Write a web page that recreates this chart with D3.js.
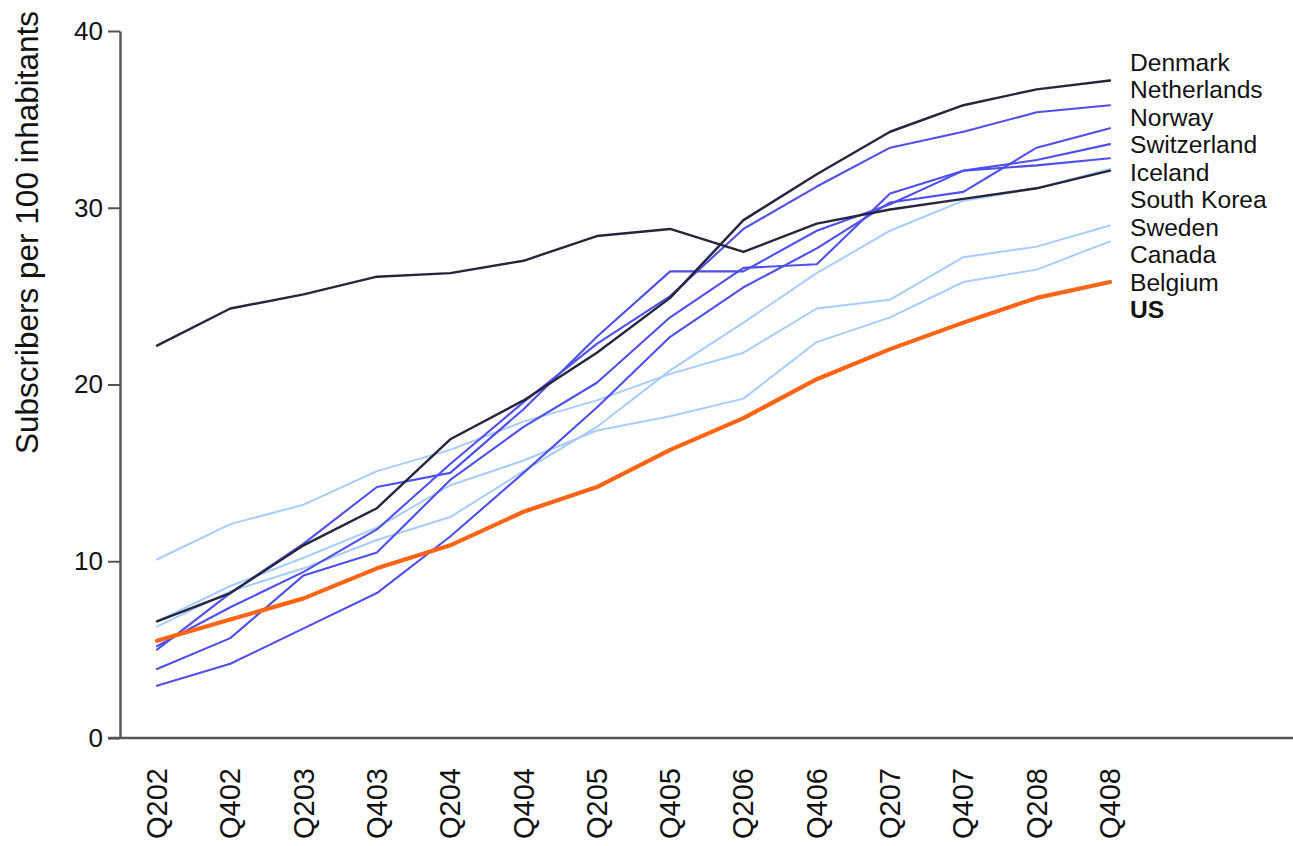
<!DOCTYPE html>
<html>
<head>
<meta charset="utf-8">
<script src="https://cdn.jsdelivr.net/npm/d3@7/dist/d3.min.js"></script>
<style>
  html, body { margin: 0; padding: 0; background: #fff; }
  svg { display: block; }
  text { font-family: "Liberation Sans", Arial, sans-serif; fill: #111; }
</style>
</head>
<body>
<svg id="chart" width="1293" height="846"></svg>
<script>
const quarters = ["Q202","Q402","Q203","Q403","Q204","Q404","Q205","Q405","Q206","Q406","Q207","Q407","Q208","Q408"];
const yTicks = [0, 10, 20, 30, 40];

const denmark     = [6.6, 8.2, 10.9, 13.0, 16.9, 19.1, 21.8, 24.9, 29.3, 31.9, 34.3, 35.8, 36.7, 37.2];
const netherlands = [5.2, 7.4, 9.4, 11.8, 15.5, 19.0, 22.3, 25.0, 28.8, 31.2, 33.4, 34.3, 35.4, 35.8];
const norway      = [2.95, 4.2, 6.2, 8.2, 11.4, 15.0, 18.7, 22.7, 25.5, 27.7, 30.3, 30.9, 33.4, 34.5];
const switzerland = [3.9, 5.65, 9.2, 10.5, 14.6, 17.6, 20.1, 23.8, 26.6, 26.8, 30.8, 32.1, 32.7, 33.6];
const iceland     = [5.0, 8.2, 11.0, 14.2, 15.0, 18.6, 22.7, 26.4, 26.4, 28.7, 30.2, 32.1, 32.4, 32.8];
const southKorea  = [22.2, 24.3, 25.1, 26.1, 26.3, 27.0, 28.4, 28.8, 27.5, 29.1, 29.9, 30.5, 31.1, 32.1];
const sweden      = [6.3, 8.3, 9.6, 11.2, 12.5, 15.1, 17.6, 20.8, 23.5, 26.3, 28.7, 30.4, 31.1, 32.2];
const canada      = [10.1, 12.1, 13.2, 15.1, 16.3, 17.9, 19.1, 20.6, 21.8, 24.3, 24.8, 27.2, 27.8, 29.0];
const belgium     = [6.6, 8.6, 10.2, 11.9, 14.3, 15.7, 17.4, 18.2, 19.2, 22.4, 23.8, 25.8, 26.5, 28.1];
const us          = [5.5, 6.7, 7.9, 9.6, 10.9, 12.8, 14.2, 16.3, 18.1, 20.3, 22.0, 23.5, 24.9, 25.8];

const labels = ["Denmark","Netherlands","Norway","Switzerland","Iceland","South Korea","Sweden","Canada","Belgium","US"];
const values = [denmark, netherlands, norway, switzerland, iceland, southKorea, sweden, canada, belgium, us];
const groups = ["dark","blue","blue","blue","blue","dark","light","light","light","us"];

const colors = { dark: "#25253e", blue: "#4f4ff0", light: "#a6cdfb", us: "#ff6514" };
const widths = { dark: 2.4, blue: 2.1, light: 2.0, us: 4.2 };
const drawOrder = ["light", "blue", "dark", "us"];

const svg = d3.select("#chart");
const x = d3.scalePoint().domain(quarters).range([157, 1110]);
const y = d3.scaleLinear().domain([0, 40]).range([738, 31]);

// Y axis
const yAxis = d3.axisLeft(y).tickValues(yTicks).tickSize(12).tickSizeOuter(0).tickPadding(5);
const gy = svg.append("g").attr("transform", "translate(120,0)").call(yAxis);
gy.select(".domain").attr("stroke", "#555").attr("stroke-width", 2.5);
gy.selectAll(".tick line").attr("stroke", "#555").attr("stroke-width", 2);
gy.selectAll(".tick text").style("font-size", "26px").attr("fill", "#111");

// X axis baseline
svg.append("line")
  .attr("x1", 108).attr("x2", 1293)
  .attr("y1", y(0)).attr("y2", y(0))
  .attr("stroke", "#555").attr("stroke-width", 2.5);

// X tick labels (rotated)
svg.append("g").selectAll("text").data(quarters).join("text")
  .attr("transform", d => `translate(${x(d)},${y(0) + 30}) rotate(-90)`)
  .attr("text-anchor", "end")
  .attr("dominant-baseline", "central")
  .style("font-size", "29px")
  .text(d => d);

// Y axis title
svg.append("text")
  .attr("transform", `translate(27,${(10 + 455) / 2}) rotate(-90)`)
  .attr("text-anchor", "middle")
  .attr("dominant-baseline", "central")
  .style("font-size", "31.5px")
  .text("Subscribers per 100 inhabitants");

// Lines
const line = d3.line().x((d, i) => x(quarters[i])).y(d => y(d));
const series = labels.map((name, i) => ({ name, vals: values[i], group: groups[i] }));
drawOrder.forEach(g => {
  series.filter(s => s.group === g).forEach(s => {
    svg.append("path")
      .attr("d", line(s.vals))
      .attr("fill", "none")
      .attr("stroke", colors[g])
      .attr("stroke-width", widths[g])
      .attr("stroke-linejoin", "round")
      .attr("stroke-linecap", "round");
  });
});

// Right-hand labels, evenly stacked starting just above the highest line end
const labelGap = 27.5;
const labelTop = y(d3.max(values, v => v[v.length - 1])) - 18;
svg.append("g").selectAll("text").data(series).join("text")
  .attr("x", x(quarters[quarters.length - 1]) + 20)
  .attr("y", (d, i) => labelTop + i * labelGap)
  .attr("dominant-baseline", "central")
  .style("font-size", "24.6px")
  .style("font-weight", d => d.name === "US" ? "bold" : "normal")
  .text(d => d.name);
</script>
</body>
</html>
